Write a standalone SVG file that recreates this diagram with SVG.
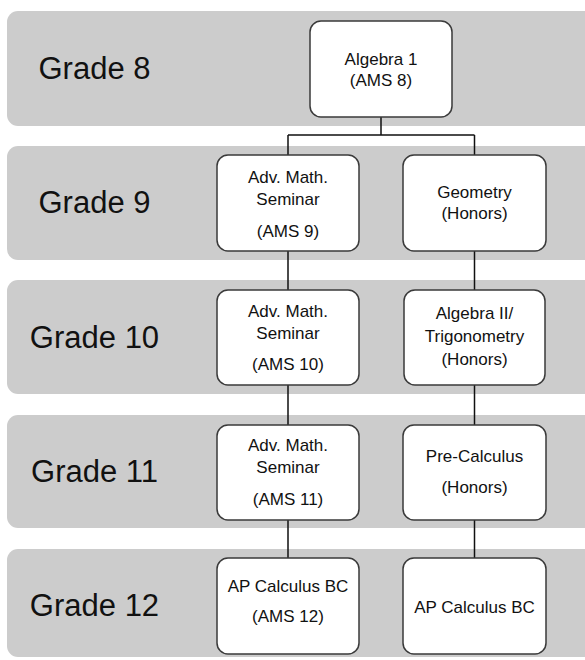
<svg xmlns="http://www.w3.org/2000/svg" width="585" height="660" viewBox="0 0 585 660">
<style>
.band{fill:#cccccc;}
.box{fill:#ffffff;stroke:#3a3a3a;stroke-width:1.5;}
.grade{font-family:"Liberation Sans",Arial,sans-serif;font-size:31px;fill:#111;text-anchor:middle;}
.lbl{font-family:"Liberation Sans",Arial,sans-serif;font-size:17px;fill:#111;text-anchor:middle;}
.conn{stroke:#111;stroke-width:1.5;fill:none;}
</style>
<rect width="585" height="660" fill="#ffffff"/>
<g id="bands">
<rect class="band" x="7" y="11" width="600" height="115" rx="11"/>
<rect class="band" x="7" y="146" width="600" height="114" rx="11"/>
<rect class="band" x="7" y="280" width="600" height="114" rx="11"/>
<rect class="band" x="7" y="415" width="600" height="113" rx="11"/>
<rect class="band" x="7" y="549" width="600" height="108" rx="11"/>
</g>
<g id="grade-labels">
<text class="grade" x="94.5" y="79">Grade 8</text>
<text class="grade" x="94.5" y="213">Grade 9</text>
<text class="grade" x="94.5" y="348">Grade 10</text>
<text class="grade" x="94.5" y="482">Grade 11</text>
<text class="grade" x="94.5" y="616">Grade 12</text>
</g>
<g id="connectors">
<path class="conn" d="M381,117 V135 M288,135 H474.5 M288,135 V155 M474.5,135 V155"/>
<path class="conn" d="M288,251 V290 M288,385 V425 M288,520 V558"/>
<path class="conn" d="M474.5,251 V290 M474.5,385 V425 M474.5,520 V558"/>
</g>
<g id="algebra1">
<rect class="box" x="310" y="21" width="142" height="96" rx="11"/>
<text class="lbl" x="381" y="65">Algebra 1</text>
<text class="lbl" x="381" y="86">(AMS 8)</text>
</g>
<g id="ams9">
<rect class="box" x="217" y="155" width="142" height="96" rx="11"/>
<text class="lbl" x="288" y="183">Adv. Math.</text>
<text class="lbl" x="288" y="205">Seminar</text>
<text class="lbl" x="288" y="237">(AMS 9)</text>
</g>
<g id="geometry">
<rect class="box" x="403" y="155" width="143" height="96" rx="11"/>
<text class="lbl" x="474.5" y="198">Geometry</text>
<text class="lbl" x="474.5" y="219">(Honors)</text>
</g>
<g id="ams10">
<rect class="box" x="217" y="290" width="142" height="95" rx="11"/>
<text class="lbl" x="288" y="317">Adv. Math.</text>
<text class="lbl" x="288" y="339">Seminar</text>
<text class="lbl" x="288" y="370">(AMS 10)</text>
</g>
<g id="algebra2">
<rect class="box" x="404" y="290" width="141" height="95" rx="11"/>
<text class="lbl" x="474.5" y="319">Algebra II/</text>
<text class="lbl" x="474.5" y="342">Trigonometry</text>
<text class="lbl" x="474.5" y="365">(Honors)</text>
</g>
<g id="ams11">
<rect class="box" x="217" y="425" width="142" height="95" rx="11"/>
<text class="lbl" x="288" y="451">Adv. Math.</text>
<text class="lbl" x="288" y="473">Seminar</text>
<text class="lbl" x="288" y="505">(AMS 11)</text>
</g>
<g id="precalc">
<rect class="box" x="403" y="425" width="143" height="95" rx="11"/>
<text class="lbl" x="474.5" y="462">Pre-Calculus</text>
<text class="lbl" x="474.5" y="493">(Honors)</text>
</g>
<g id="ams12">
<rect class="box" x="217" y="558" width="142" height="96" rx="11"/>
<text class="lbl" x="288" y="592">AP Calculus BC</text>
<text class="lbl" x="288" y="622">(AMS 12)</text>
</g>
<g id="apcalc">
<rect class="box" x="403" y="558" width="143" height="96" rx="11"/>
<text class="lbl" x="474.5" y="613">AP Calculus BC</text>
</g>
</svg>
